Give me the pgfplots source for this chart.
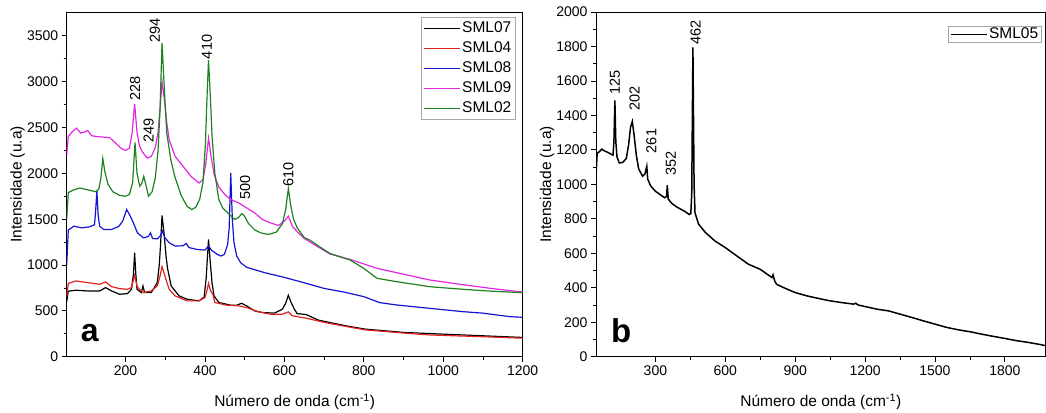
\documentclass[border=0pt]{standalone}
\usepackage{fontspec}
\setmainfont{Liberation Sans}
\usepackage{pgfplots}
\pgfplotsset{compat=1.18}
\definecolor{cRed}{RGB}{225,35,30}
\definecolor{cBlue}{RGB}{20,20,210}
\definecolor{cMag}{RGB}{225,40,225}
\definecolor{cGreen}{RGB}{30,130,30}
\tikzset{plab/.style={rotate=90, anchor=west, inner sep=0pt, font=\fontsize{14.5}{16}\selectfont}}
\pgfplotsset{
  myaxis/.style={
    scale only axis,
    anchor=south west,
    axis line style={line width=0.9pt},
    tick align=outside,
    tick pos=left,
    major tick length=5pt,
    minor tick length=3pt,
    every tick/.append style={black, line width=0.8pt},
    minor x tick num=1, minor y tick num=1,
    /pgf/number format/assume math mode=true,
    /pgf/number format/1000 sep={},
    tick label style={font=\fontsize{14}{16}\selectfont},
    label style={font=\fontsize{15.5}{18}\selectfont},
    xlabel={Número de onda (cm\textsuperscript{-1})},
    ylabel={Intensidade (u.a)},
    xlabel style={at={(axis description cs:0.5,0)}, anchor=base, yshift=-50pt},
    ylabel style={at={(axis description cs:0,0.5)}, anchor=center, yshift=49pt},
    legend cell align=left,
    legend image code/.code={\draw[#1] (0pt,0pt) -- (36pt,0pt);},
  },
}
\begin{document}
\begin{tikzpicture}
\useasboundingbox (0,0) rectangle (1046pt,412pt);
% ---------------- panel a ----------------
\begin{axis}[myaxis,
  at={(66.7pt,55.3pt)}, width=456pt, height=344.7pt,
  xmin=52, xmax=1200, ymin=0, ymax=3760,
  xtick={200,400,...,1200}, ytick={0,500,...,3500},
  legend style={at={(axis description cs:1,1)}, anchor=north east, xshift=-7pt, yshift=-5pt,
    draw=gray!70, line width=0.8pt, font=\fontsize{15.5}{18}\selectfont,
    inner xsep=2pt, inner ysep=2pt, row sep=2pt,
    nodes={inner sep=2pt, text height=11pt, text depth=3pt}},
  every axis plot/.append style={line width=1.2pt},
]
\addplot[black] coordinates {(52,600) (56,715) (75,725) (105,717) (135,717) (150,754) (165,717) (185,681) (205,688) (215,735) (220,900) (223,1134) (226,900) (229,735) (240,700) (244,772) (248,700) (265,700) (280,808) (285,1000) (288,1200) (292,1540) (297,1351) (302,1100) (306,960) (315,772) (335,663) (355,627) (385,609) (398,650) (403,850) (409,1279) (414,1000) (418,800) (423,663) (435,591) (465,562) (480,560) (492,583) (505,554) (525,500) (545,482) (575,475) (595,518) (603,580) (610,670) (617,591) (625,520) (632,470) (655,460) (685,400) (723,365) (755,337) (803,301) (903,264) (1000,246) (1100,228) (1200,210)};
\addlegendentry{SML07}
\addplot[cRed] coordinates {(52,650) (56,800) (75,826) (105,808) (135,790) (150,815) (165,764) (185,743) (205,735) (215,754) (223,888) (229,770) (235,735) (245,700) (265,717) (280,772) (287,880) (292,982) (298,900) (305,800) (310,735) (325,663) (355,609) (385,609) (400,645) (405,720) (409,801) (414,720) (420,681) (425,591) (455,562) (485,554) (505,536) (535,489) (565,464) (595,464) (610,489) (620,446) (655,420) (705,370) (755,330) (803,293) (903,257) (967,237) (1050,225) (1100,218) (1200,202)};
\addlegendentry{SML04}
\addplot[cBlue] coordinates {(52,1000) (56,1380) (70,1424) (90,1406) (110,1417) (122,1440) (125,1600) (128,1815) (131,1550) (135,1424) (145,1388) (165,1388) (183,1420) (193,1480) (203,1605) (210,1551) (220,1460) (230,1351) (245,1297) (257,1310) (263,1351) (268,1290) (280,1285) (288,1320) (293,1370) (299,1300) (310,1243) (325,1207) (345,1210) (353,1235) (360,1190) (380,1170) (400,1163) (409,1207) (417,1160) (430,1120) (440,1098) (449,1116) (457,1220) (461,1400) (465,2004) (469,1500) (473,1250) (480,1098) (490,1025) (505,975) (550,917) (600,865) (640,818) (700,745) (750,705) (800,655) (840,590) (883,564) (967,527) (1050,491) (1100,475) (1169,436) (1200,430)};
\addlegendentry{SML08}
\addplot[cMag] coordinates {(52,2200) (56,2400) (65,2450) (77,2493) (87,2440) (97,2450) (105,2467) (115,2410) (130,2400) (145,2395) (160,2390) (175,2330) (190,2270) (200,2250) (210,2275) (217,2450) (223,2757) (229,2450) (235,2300) (243,2230) (255,2167) (265,2185) (275,2280) (282,2450) (287,2700) (292,3000) (298,2801) (304,2550) (310,2366) (325,2185) (345,2076) (365,1967) (385,1895) (395,1931) (402,2100) (409,2384) (415,2200) (423,1990) (435,1850) (450,1770) (465,1714) (485,1678) (505,1623) (525,1569) (545,1496) (565,1460) (585,1431) (600,1478) (610,1533) (620,1424) (635,1351) (650,1290) (680,1210) (715,1120) (765,1062) (833,964) (883,916) (967,836) (1050,785) (1120,745) (1200,705)};
\addlegendentry{SML09}
\addplot[cGreen] coordinates {(52,1500) (56,1790) (70,1820) (85,1840) (100,1825) (115,1810) (125,1800) (133,1830) (138,1950) (143,2160) (148,2020) (156,1880) (168,1800) (185,1760) (200,1750) (210,1770) (218,1900) (224,2337) (229,2000) (236,1860) (241,1890) (246,1967) (251,1880) (258,1750) (267,1800) (275,1950) (282,2250) (287,2700) (292,3424) (298,2900) (304,2438) (314,2150) (324,1967) (340,1760) (355,1641) (367,1605) (377,1630) (387,1720) (395,1900) (401,2300) (405,2800) (409,3235) (413,2900) (418,2400) (425,2000) (435,1714) (445,1620) (460,1560) (475,1496) (485,1520) (493,1561) (500,1530) (510,1450) (525,1385) (540,1351) (560,1333) (580,1360) (595,1450) (603,1600) (610,1833) (616,1650) (623,1500) (633,1400) (650,1300) (665,1270) (685,1210) (715,1125) (765,1055) (800,964) (833,855) (883,818) (967,763) (1050,735) (1120,715) (1200,698)};
\addlegendentry{SML02}
\node[plab] at (axis cs:224,2790) {228};
\node[plab] at (axis cs:258,2330) {249};
\node[plab] at (axis cs:274,3420) {294};
\node[plab] at (axis cs:405,3245) {410};
\node[plab] at (axis cs:501,1710) {500};
\node[plab] at (axis cs:610,1855) {610};
\node[anchor=base west, inner sep=0pt, font=\fontsize{32}{32}\selectfont\bfseries] at (axis description cs:0,0) [xshift=14pt, yshift=15pt] {a};
\end{axis}
% ---------------- panel b ----------------
\begin{axis}[myaxis,
  at={(596pt,55.3pt)}, width=449.6pt, height=344.7pt,
  xmin=45, xmax=1975, ymin=0, ymax=2000,
  xtick={300,600,...,1800}, ytick={0,200,...,2000},
  legend style={at={(axis description cs:1,1)}, anchor=north east, xshift=-4pt, yshift=-14pt,
    draw=gray!70, line width=0.8pt, font=\fontsize{15.5}{18}\selectfont,
    inner xsep=2pt, inner ysep=0.5pt,
    nodes={inner sep=1pt, text height=11pt, text depth=2pt}},
]
\addplot[black, line width=1.5pt] coordinates {(45,1050) (50,1180) (60,1190) (70,1205) (80,1195) (95,1186) (110,1175) (118,1170) (122,1250) (126,1487) (130,1250) (135,1160) (145,1124) (160,1128) (175,1150) (185,1230) (193,1330) (201,1365) (208,1290) (218,1170) (228,1090) (245,1047) (255,1060) (263,1105) (267,1030) (280,990) (300,960) (320,941) (340,922) (348,930) (351,995) (355,915) (370,890) (390,870) (410,855) (430,840) (445,825) (452,830) (456,950) (461,1794) (466,1000) (470,835) (485,770) (515,720) (555,672) (600,633) (650,584) (700,536) (750,507) (790,469) (800,459) (805,475) (812,440) (820,420) (850,401) (900,372) (950,353) (1000,338) (1050,324) (1100,314) (1150,305) (1160,310) (1170,300) (1200,291) (1250,276) (1300,266) (1350,247) (1400,228) (1450,208) (1500,189) (1550,170) (1600,156) (1650,145) (1700,131) (1750,118) (1800,106) (1850,93) (1900,83) (1950,71) (1975,64)};
\addlegendentry{SML05}
\node[plab] at (axis cs:126,1518) {125};
\node[plab] at (axis cs:211,1428) {202};
\node[plab] at (axis cs:283,1180) {261};
\node[plab] at (axis cs:366,1048) {352};
\node[plab] at (axis cs:473,1808) {462};
\node[anchor=base west, inner sep=0pt, font=\fontsize{33}{33}\selectfont\bfseries] at (axis description cs:0,0) [xshift=15pt, yshift=14pt] {b};
\end{axis}
\end{tikzpicture}
\end{document}
